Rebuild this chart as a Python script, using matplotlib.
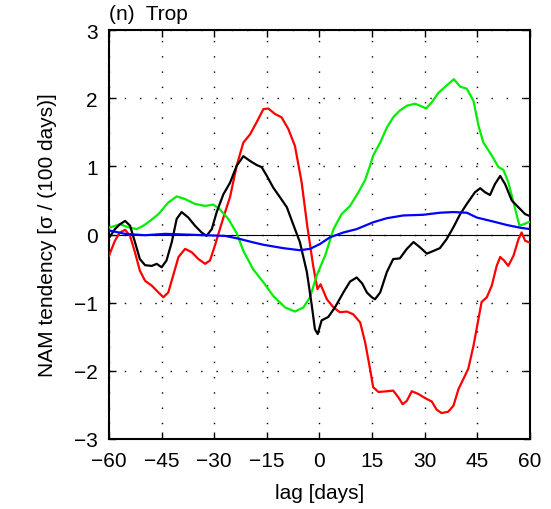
import matplotlib
matplotlib.use("Agg")
import matplotlib.pyplot as plt

plt.rcParams['font.family'] = ['Liberation Sans', 'DejaVu Sans']

red_x = [-60, -58.3, -56.9, -55.4, -54, -52.6, -51.2, -49.7, -47.8, -45.9, -44.5, -43.1, -41.7, -40.2,
         -38.3, -36.4, -34.5, -32.6, -31.2, -29.8, -28.4, -26.9, -25.5, -23.6, -21.7, -19.8, -17.9, -16,
         -14.6, -12.7, -10.8, -8.9, -7, -5.1, -3.5, -1.8, -0.6, 0.3, 2.1, 4, 5.8, 7.8, 9.6, 11.6, 13,
         14.4, 15.3, 16.8, 19.2, 21, 22.5, 23.7, 24.9, 26.3, 28.2, 30.1, 32, 33.4, 34.8, 36.7, 38.2,
         39.6, 41, 42.4, 43.9, 45.3, 46.2, 47.7, 49.1, 50.5, 51.5, 52.6, 53.8, 55.3, 56.7, 57.6, 58.6, 60]
red_y = [-0.31, -0.09, 0.03, 0.07, -0.02, -0.26, -0.53, -0.68, -0.75, -0.85, -0.92, -0.85, -0.6, -0.33,
         -0.21, -0.26, -0.36, -0.43, -0.38, -0.16, 0.08, 0.33, 0.55, 1.01, 1.35, 1.47, 1.65, 1.84,
         1.85, 1.77, 1.72, 1.55, 1.3, 0.77, 0.13, -0.46, -0.8, -0.73, -0.95, -1.07, -1.14, -1.13, -1.17,
         -1.29, -1.58, -1.97, -2.24, -2.31, -2.3, -2.29, -2.39, -2.49, -2.44, -2.3, -2.34, -2.4, -2.45,
         -2.57, -2.62, -2.6, -2.51, -2.27, -2.12, -1.97, -1.63, -1.24, -0.99, -0.92, -0.75, -0.46, -0.33,
         -0.38, -0.46, -0.31, -0.07, 0.03, -0.09, -0.12]

black_x = [-60, -58.3, -56.9, -55.4, -54, -52.6, -51.2, -49.7, -47.8, -46.4, -45, -43.6, -42.1, -40.7,
           -39.3, -37.4, -35.5, -33.6, -32.2, -30.7, -29.3, -27.4, -25.5, -23.6, -21.7, -19.8, -17.9,
           -16.5, -15, -13.2, -11.3, -9.3, -7.5, -5.6, -3.6, -2.2, -1.3, -0.5, 0.6, 2.5, 4.4, 6.8, 8.7,
           10.6, 12.2, 13.5, 14.9, 15.8, 17.3, 19.2, 21, 22.9, 24.9, 26.8, 28.7, 30.6, 32.5, 34.3, 36.2,
           38.2, 40.1, 42, 44.3, 45.8, 47.2, 48.6, 50, 51.5, 52.9, 54.8, 56.7, 58.6, 60]
black_y = [-0.05, 0.08, 0.15, 0.2, 0.13, -0.11, -0.36, -0.45, -0.46, -0.43, -0.48, -0.38, -0.11, 0.23,
           0.33, 0.25, 0.13, 0.03, -0.02, 0.08, 0.33, 0.59, 0.76, 1.01, 1.15, 1.08, 1.02,
           0.99, 0.86, 0.69, 0.55, 0.4, 0.15, -0.11, -0.55, -1.04, -1.39, -1.46, -1.26, -1.21, -1.07,
           -0.85, -0.69, -0.63, -0.72, -0.85, -0.92, -0.95, -0.85, -0.55, -0.36, -0.35, -0.21, -0.11,
           -0.19, -0.28, -0.24, -0.2, -0.07, 0.11, 0.3, 0.45, 0.62, 0.68, 0.62, 0.58, 0.74, 0.86, 0.74,
           0.5, 0.4, 0.3, 0.27]

green_x = [-60, -56.9, -54, -52.1, -50.2, -48.3, -45.9, -43.1, -40.7, -38.3, -35.5, -32.6, -30.3, -28.4,
           -26, -23.6, -21.7, -18.9, -16, -13.2, -9.8, -7, -4.6, -2.7, -0.8, 1.6, 4, 6.3, 8.7, 11.1, 13,
           14.4, 15.3, 17.3, 19.2, 21, 22.9, 24.9, 27.2, 28.7, 30.4, 32, 33.9, 36.3, 38.3, 40.1, 42,
           43.9, 45.3, 46.7, 49.1, 51, 52.4, 53.8, 55.3, 57, 58.6, 60]
green_y = [0.1, 0.15, 0.1, 0.08, 0.13, 0.2, 0.3, 0.47, 0.56, 0.52, 0.45, 0.42, 0.44, 0.37,
           0.23, 0.02, -0.24, -0.51, -0.7, -0.9, -1.07, -1.13, -1.07, -0.92, -0.6, -0.31, 0.08, 0.3,
           0.42, 0.62, 0.8, 1.01, 1.16, 1.35, 1.57, 1.72, 1.82, 1.89, 1.92, 1.89, 1.85, 1.94, 2.08,
           2.19, 2.28, 2.17, 2.14, 1.96, 1.6, 1.35, 1.16, 0.99, 0.95, 0.77, 0.47, 0.13, 0.16, 0.19]

blue_x = [-60, -55.4, -49.7, -44, -38.3, -32.6, -26.9, -23.1, -19.3, -16, -10.3, -5.6, -2.7, 0.1, 3,
          6.8, 10.6, 15.3, 19.2, 23.9, 29.6, 34.3, 38.2, 42, 44.8, 49.6, 53.4, 57.2, 60]
blue_y = [0.06, 0.01, -0.01, 0.01, 0.0, -0.01, -0.02, -0.06, -0.11, -0.15, -0.2, -0.23, -0.21, -0.14,
          -0.04, 0.03, 0.08, 0.18, 0.24, 0.28, 0.29, 0.32, 0.33, 0.32, 0.25, 0.19, 0.14, 0.1, 0.08]

xticks = [-60, -45, -30, -15, 0, 15, 30, 45, 60]
yticks = [-3, -2, -1, 0, 1, 2, 3]

fig = plt.figure(figsize=(5.51, 5.10), dpi=100)
ax = fig.add_axes([0.1978, 0.1373, 0.7641, 0.8017])

ax.axhline(0, color='black', lw=0.8, zorder=1)
ax.plot(red_x, red_y, color='#ff0000', lw=1.6, zorder=3)
ax.plot(green_x, green_y, color='#00ee00', lw=1.6, zorder=3)
ax.plot(black_x, black_y, color='black', lw=1.6, zorder=4)
ax.plot(blue_x, blue_y, color='#0000ff', lw=1.6, zorder=5)

ax.set_xlim(-60, 60)
ax.set_ylim(-3, 3)
ax.set_xticks(xticks)
ax.set_yticks(yticks)
ax.grid(True, color='black', linestyle=(0, (1, 10)), lw=1.0)
ax.tick_params(axis='x', direction='in', length=5, width=1, top=True, labelsize=15, pad=9)
ax.tick_params(axis='y', direction='in', length=5, width=1, right=True, labelsize=15, pad=8)
for s in ax.spines.values():
    s.set_linewidth(1.5)

ax.set_xlabel('lag [days]', fontsize=15, labelpad=9)
ax.set_ylabel('NAM tendency [σ / (100 days)]', fontsize=15, labelpad=12)
ax.text(0.0, 1.027, '(n)  Trop', transform=ax.transAxes, fontsize=15, ha='left', va='baseline')

fig.savefig('out.png', dpi=100)
